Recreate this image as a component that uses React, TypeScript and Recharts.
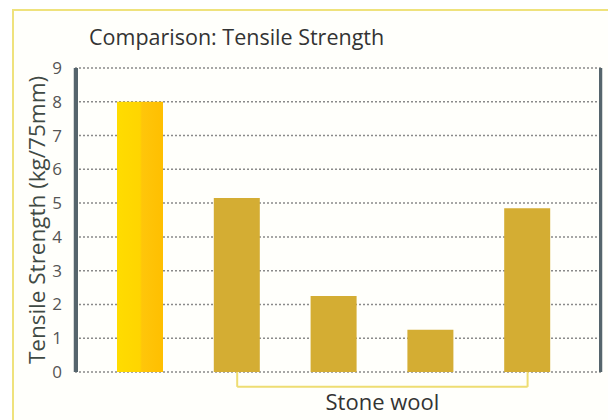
import { BarChart, Bar, XAxis, YAxis, CartesianGrid, Cell, ReferenceLine } from 'recharts';

const categories = ['Product', 'Stone wool A', 'Stone wool B', 'Stone wool C', 'Stone wool D'];
const strength = [8, 5.15, 2.25, 1.25, 4.85];
const yTicks = [0, 1, 2, 3, 4, 5, 6, 7, 8, 9];
const groupLabel = 'Stone wool';

const FONT = '"Open Sans", "Noto Sans", sans-serif';
const GOLD = '#d4ad33';
const BRACKET = '#eedd72';
const BRACKET_Y = -0.44;
const AXIS = '#56656c';

const data = categories.map((name, i) => ({ name, value: strength[i] }));

const App = () => {
  return (
    <div style={{ position: 'fixed', left: 0, top: 0, width: 608, height: 420, background: '#fff', fontFamily: FONT }}>
      {/* frame */}
      <div
        style={{
          position: 'absolute', left: 12, top: 9, right: 0, bottom: 0,
          borderLeft: '2px solid #efe27c', borderTop: '2px solid #efe27c', background: '#fffffb',
        }}
      />
      <div style={{ position: 'absolute', left: 89, top: 22, fontSize: 21.5, color: '#333' }}>
        Comparison: Tensile Strength
      </div>
      <div style={{ position: 'absolute', left: 0, top: 0 }}>
        <BarChart width={608} height={420} data={data} margin={{ top: 68, right: 6, bottom: 48, left: 35 }}>
          <defs>
            <linearGradient id="goldFace" x1="0" y1="0" x2="1" y2="0">
              <stop offset="0%" stopColor="#ffdc00" />
              <stop offset="50%" stopColor="#ffd500" />
              <stop offset="54%" stopColor="#ffc60a" />
              <stop offset="100%" stopColor="#ffbf00" />
            </linearGradient>
          </defs>
          <CartesianGrid vertical={false} stroke="#8a8a8a" strokeDasharray="2 2" strokeWidth={1.5} />
          {/* solid side rules just inside the plot edges */}
          <CartesianGrid horizontal={false} verticalPoints={[77, 600]} stroke={AXIS} strokeWidth={2} />
          <XAxis dataKey="name" hide padding={{ left: 17, right: 25 }} />
          <YAxis
            domain={[0, 9]}
            ticks={yTicks}
            interval={0}
            width={40}
            tickLine={false}
            axisLine={{ stroke: AXIS, strokeWidth: 2.5 }}
            tickMargin={7}
            tick={{ fill: '#555', fontSize: 17, fontFamily: FONT }}
            label={{
              value: 'Tensile Strength (kg/75mm)',
              angle: -90,
              position: 'insideLeft',
              offset: 2,
              style: { textAnchor: 'middle', fill: '#3f4a44', fontSize: 22.5, fontFamily: FONT },
            }}
          />
          {/* right-hand rule of the plot */}
          <YAxis
            yAxisId="right"
            orientation="right"
            domain={[0, 9]}
            width={1}
            tick={false}
            tickLine={false}
            axisLine={{ stroke: AXIS, strokeWidth: 2.5 }}
          />
          <Bar dataKey="value" barSize={46} isAnimationActive={false}>
            {data.map((_, i) => (
              <Cell key={`cell-${i}`} fill={i === 0 ? 'url(#goldFace)' : GOLD} />
            ))}
          </Bar>
          {/* bracket under the stone wool bars */}
          <ReferenceLine
            segment={[{ x: categories[1], y: 0 }, { x: categories[1], y: BRACKET_Y }]}
            stroke={BRACKET}
            strokeWidth={2}
            ifOverflow="visible"
          />
          <ReferenceLine
            segment={[{ x: categories[4], y: 0 }, { x: categories[4], y: BRACKET_Y }]}
            stroke={BRACKET}
            strokeWidth={2}
            ifOverflow="visible"
          />
          <ReferenceLine
            segment={[{ x: categories[1], y: BRACKET_Y }, { x: categories[4], y: BRACKET_Y }]}
            stroke={BRACKET}
            strokeWidth={2}
            ifOverflow="visible"
            label={{ value: groupLabel, position: 'bottom', offset: 8, fill: '#333', fontSize: 22, fontFamily: FONT }}
          />
        </BarChart>
      </div>
    </div>
  );
};

export default App;
